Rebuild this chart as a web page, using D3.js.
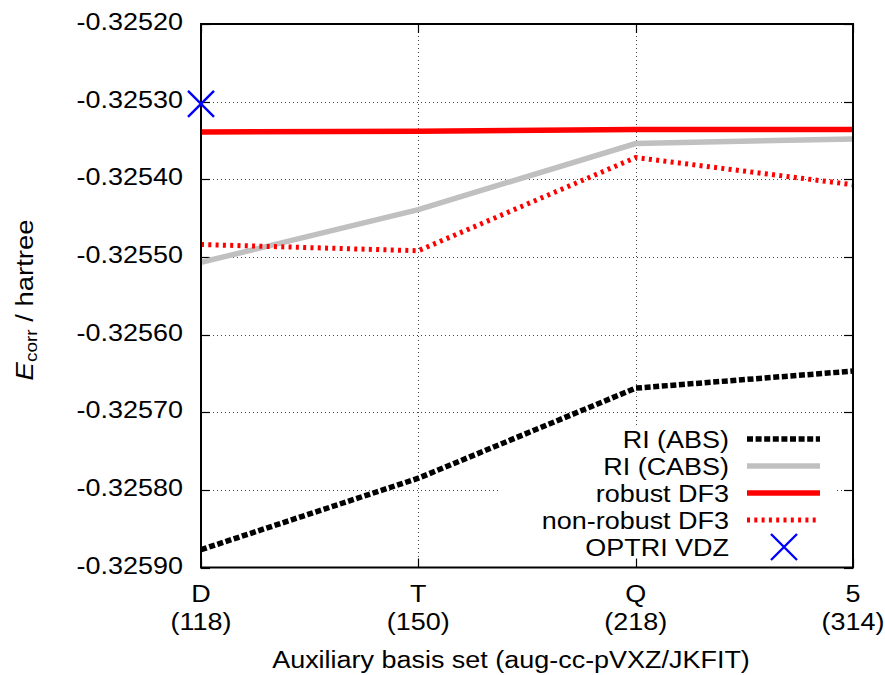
<!DOCTYPE html>
<html>
<head>
<meta charset="utf-8">
<script src="https://cdn.jsdelivr.net/npm/d3@7"></script>
<style>
  html, body { margin: 0; padding: 0; background: #fff; }
  svg text { font-family: "Liberation Sans", Arial, Helvetica, sans-serif; fill: #000; }
</style>
</head>
<body>
<svg id="chart" width="885" height="675"></svg>
<script>
// Auxiliary basis sets (cardinal number and number of functions)
const basisLabels = ["D", "T", "Q", "5"];
const basisSizes = ["(118)", "(150)", "(218)", "(314)"];

// Correlation energies (hartree)
const riAbs = [-0.325877, -0.325785, -0.325669, -0.325647];
const riCabs = [-0.325507, -0.325439, -0.325354, -0.325348];
const robustDf3 = [-0.325339, -0.325338, -0.325336, -0.325336];
const nonRobustDf3 = [-0.325484, -0.325492, -0.325372, -0.325407];
const optriVdz = [{ basis: "D", value: -0.325303 }];

const yTicks = [-0.32590, -0.32580, -0.32570, -0.32560, -0.32550, -0.32540, -0.32530, -0.32520];

const series = [
  { name: "RI (ABS)", values: riAbs, color: "#000000", width: 5.5, dash: "6,2.6" },
  { name: "RI (CABS)", values: riCabs, color: "#c0c0c0", width: 5.5, dash: null },
  { name: "robust DF3", values: robustDf3, color: "#ff0000", width: 5.5, dash: null },
  { name: "non-robust DF3", values: nonRobustDf3, color: "#ff0000", width: 5, dash: "3,4.3" }
];

const svg = d3.select("#chart");
const plotL = 201, plotR = 853, plotT = 24, plotB = 567.5;
const fontSize = 24.5, stretch = 1.1;

const x = d3.scalePoint().domain(basisLabels).range([plotL, plotR]);
const y = d3.scaleLinear().domain([-0.32590, -0.32520]).range([plotB, plotT]);

// Text in the slightly wide sans face used throughout the figure
function label(g, tx, ty, str, anchor) {
  return g.append("text")
    .attr("transform", `translate(${tx},${ty}) scale(${stretch},1)`)
    .attr("text-anchor", anchor)
    .attr("font-size", fontSize)
    .text(str);
}

// Grid
const grid = svg.append("g").attr("stroke", "#444").attr("stroke-width", 1)
  .attr("stroke-dasharray", "1,3");
grid.selectAll("line.gy").data(yTicks.slice(1, -1)).join("line")
  .attr("x1", plotL).attr("x2", plotR)
  .attr("y1", d => Math.round(y(d)) + 0.5).attr("y2", d => Math.round(y(d)) + 0.5);
grid.selectAll("line.gx").data(basisLabels.slice(1, -1)).join("line")
  .attr("x1", d => Math.round(x(d)) + 0.5).attr("x2", d => Math.round(x(d)) + 0.5)
  .attr("y1", plotT).attr("y2", plotB);

// Legend background hides the grid beneath it
const legendBox = { x0: 500, x1: 836, y0: 425, y1: 562 };
svg.append("rect")
  .attr("x", legendBox.x0).attr("y", legendBox.y0)
  .attr("width", legendBox.x1 - legendBox.x0).attr("height", legendBox.y1 - legendBox.y0)
  .attr("fill", "#fff");

// Tick marks (inward, mirrored)
const ticks = svg.append("g").attr("stroke", "#000").attr("stroke-width", 1.2);
const tl = 9;
yTicks.forEach(v => {
  const yy = Math.round(y(v)) + 0.5;
  ticks.append("line").attr("x1", plotL).attr("x2", plotL + tl).attr("y1", yy).attr("y2", yy);
  ticks.append("line").attr("x1", plotR).attr("x2", plotR - tl).attr("y1", yy).attr("y2", yy);
});
basisLabels.forEach(b => {
  const xx = Math.round(x(b)) + 0.5;
  ticks.append("line").attr("x1", xx).attr("x2", xx).attr("y1", plotB).attr("y2", plotB - tl);
  ticks.append("line").attr("x1", xx).attr("x2", xx).attr("y1", plotT).attr("y2", plotT + tl);
});

// Data lines
svg.append("clipPath").attr("id", "plotclip").append("rect")
  .attr("x", plotL).attr("y", plotT).attr("width", plotR - plotL).attr("height", plotB - plotT);
const line = d3.line().x((d, i) => x(basisLabels[i])).y(d => y(d));
const lines = svg.append("g").attr("clip-path", "url(#plotclip)");
series.forEach(s => {
  lines.append("path")
    .attr("d", line(s.values))
    .attr("fill", "none")
    .attr("stroke", s.color)
    .attr("stroke-width", s.width)
    .attr("stroke-dasharray", s.dash)
    .attr("stroke-linejoin", "miter");
});

// Cross marker
function cross(g, cx, cy, r) {
  g.append("path")
    .attr("d", `M${cx - r},${cy - r}L${cx + r},${cy + r}M${cx - r},${cy + r}L${cx + r},${cy - r}`)
    .attr("stroke", "#0000ff").attr("stroke-width", 2.4).attr("fill", "none");
}

// Frame
svg.append("rect").attr("x", plotL).attr("y", plotT)
  .attr("width", plotR - plotL).attr("height", plotB - plotT)
  .attr("fill", "none").attr("stroke", "#000").attr("stroke-width", 2);

optriVdz.forEach(p => cross(svg, x(p.basis), y(p.value), 13));

// Y tick labels
const yl = svg.append("g");
yTicks.forEach(v => label(yl, 183, y(v) + 6, d3.format(".5f")(v).replace("−", "-"), "end"));

// X tick labels (two lines)
const xl = svg.append("g");
basisLabels.forEach((b, i) => {
  label(xl, x(b), 602, b, "middle");
  label(xl, x(b), 630, basisSizes[i], "middle");
});

// Axis titles
label(svg, 511, 668, "Auxiliary basis set (aug-cc-pVXZ/JKFIT)", "middle");

const yt = svg.append("text").attr("text-anchor", "middle").attr("font-size", fontSize)
  .attr("transform", `translate(33,300) rotate(-90) scale(1.12,1)`);
yt.append("tspan").attr("font-style", "italic").text("E");
yt.append("tspan").attr("font-size", 17).attr("dy", 4).text("corr");
yt.append("tspan").attr("dy", -4).text(" / hartree");

// Legend
const legend = svg.append("g");
const rowY0 = 439, rowStep = 27;
const entries = series.concat([{ name: "OPTRI VDZ", marker: true }]);
entries.forEach((s, i) => {
  const yy = rowY0 + i * rowStep;
  label(legend, 729, yy + 8.5, s.name, "end");
  if (s.marker) {
    cross(legend, 784, yy, 13);
  } else {
    legend.append("line").attr("x1", 747).attr("x2", 820).attr("y1", yy).attr("y2", yy)
      .attr("stroke", s.color).attr("stroke-width", s.width)
      .attr("stroke-dasharray", s.dash);
  }
});
</script>
</body>
</html>
